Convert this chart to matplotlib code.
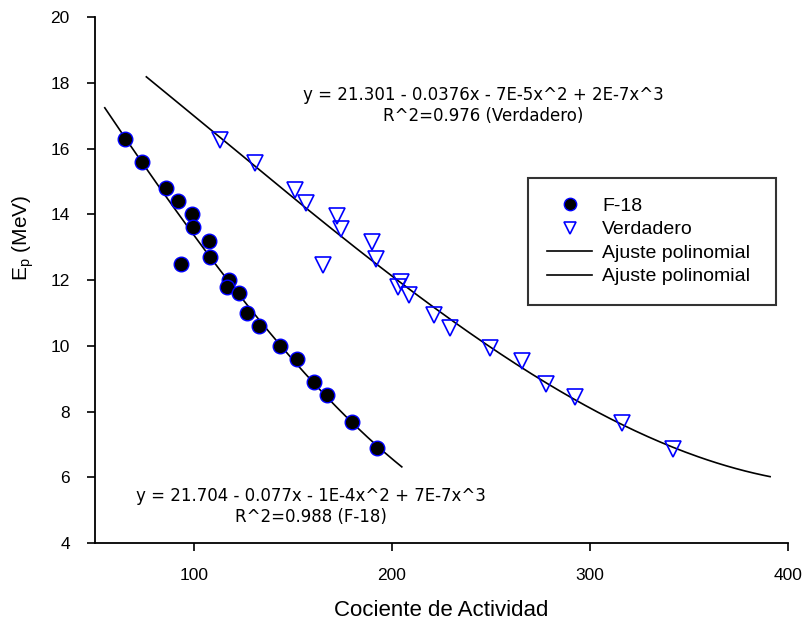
import numpy as np
import matplotlib.pyplot as plt

# F-18 data (cociente de actividad, Ep)
f18_x = [65, 74, 86, 92, 99, 99.5, 93.5, 107.5, 108, 117.5, 116.5, 123, 127, 133, 143.5, 152, 160.5, 167, 180, 192.5]
f18_y = [16.3, 15.6, 14.8, 14.4, 14.0, 13.6, 12.5, 13.2, 12.7, 12.0, 11.8, 11.6, 11.0, 10.6, 10.0, 9.6, 8.9, 8.5, 7.7, 6.9]

# Verdadero data
ver_x = [113, 131, 151, 156.5, 172.5, 174.5, 165, 190, 192, 204.5, 203, 208.5, 221.5, 229.5, 249.5, 265.5, 278, 292.5, 316, 342]
ver_y = [16.25, 15.55, 14.75, 14.35, 13.95, 13.55, 12.45, 13.15, 12.65, 11.95, 11.8, 11.55, 10.95, 10.55, 9.95, 9.55, 8.85, 8.45, 7.65, 6.85]

# cubic fits, drawn over the range shown in the original
f18_fit = np.polyfit(f18_x, f18_y, 3)
ver_fit = np.polyfit(ver_x, ver_y, 3)
f18_xx = np.linspace(55, 205, 200)
ver_xx = np.linspace(76, 391, 200)

plt.rcParams['font.family'] = ['Liberation Sans', 'DejaVu Sans']

fig = plt.figure(figsize=(8.04, 6.28), dpi=100)
ax = fig.add_axes([0.118, 0.135, 0.862, 0.838])

ax.plot(f18_x, f18_y, 'o', ms=10.5, mfc='black', mec='blue', mew=1.0, label='F-18', zorder=3)
ax.plot(ver_x, ver_y, 'v', ms=11, mfc='none', mec='blue', mew=1.2, label='Verdadero', zorder=3)
ax.plot(f18_xx, np.polyval(f18_fit, f18_xx), color='black', lw=1.2, label='Ajuste polinomial')
ax.plot(ver_xx, np.polyval(ver_fit, ver_xx), color='black', lw=1.2, label='Ajuste polinomial')

ax.set_xlim(50, 400)
ax.set_ylim(4, 20)
ax.set_xticks([100, 200, 300, 400])
ax.set_yticks(range(4, 21, 2))
ax.spines['top'].set_visible(False)
ax.spines['right'].set_visible(False)
ax.spines['left'].set_linewidth(1.3)
ax.spines['bottom'].set_linewidth(1.3)
ax.tick_params(labelsize=12.5, length=6, width=1.2, pad=12)

ax.set_xlabel('Cociente de Actividad', fontsize=16, labelpad=12)
ax.set_ylabel(r'E$_\mathregular{p}$ (MeV)', fontsize=15)
ax.yaxis.set_label_coords(-0.085, 0.58)

ax.text(246, 17.3, 'y = 21.301 - 0.0376x - 7E-5x^2 + 2E-7x^3\nR^2=0.976 (Verdadero)',
        family='DejaVu Sans', fontsize=12, ha='center', va='center', linespacing=1.2)
ax.text(159, 5.12, 'y = 21.704 - 0.077x - 1E-4x^2 + 7E-7x^3\nR^2=0.988 (F-18)',
        family='DejaVu Sans', fontsize=12, ha='center', va='center', linespacing=1.2)

leg = ax.legend(loc='upper left', bbox_to_anchor=(0.625, 0.0, 0.358, 0.694), mode='expand',
                borderaxespad=0, fontsize=14, frameon=True, fancybox=False, edgecolor='black',
                handlelength=2.3, handletextpad=0.5, labelspacing=0.3, borderpad=1.0,
                markerscale=0.85)
leg.get_frame().set_linewidth(1.5)

fig.savefig('out.png', dpi=100)
